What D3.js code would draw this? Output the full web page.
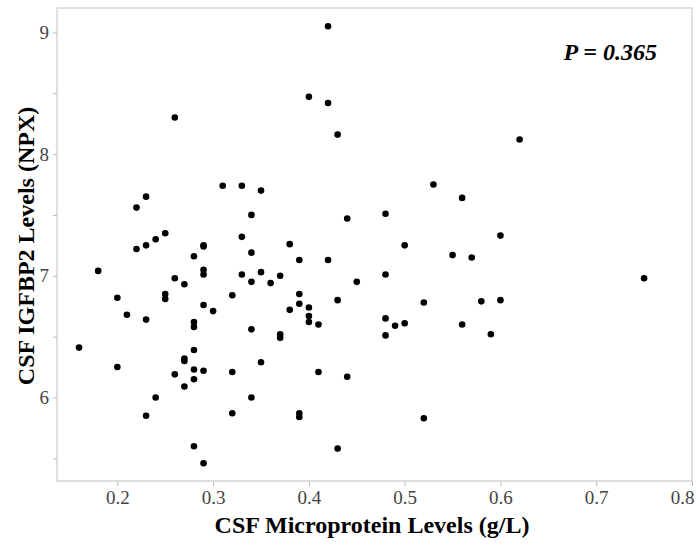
<!DOCTYPE html>
<html lang="en">
<head>
    <meta charset="UTF-8">
    <script src="https://cdnjs.cloudflare.com/ajax/libs/d3/7.8.5/d3.min.js" type="text/JavaScript"></script>
    <style>
        body { margin: 0; background: white; }
        svg { display: block; }
        .tick text {
            font-family: "Liberation Serif", "Times New Roman", serif;
            font-size: 19px;
            fill: #444;
        }
        .tick line { stroke: #bbb; }
        .title {
            font-family: "Liberation Serif", "Times New Roman", serif;
            font-weight: bold;
            font-size: 24px;
            fill: #000;
            text-anchor: middle;
        }
        .pval {
            font-family: "Liberation Serif", "Times New Roman", serif;
            font-weight: bold;
            font-style: italic;
            font-size: 24px;
            text-anchor: end;
        }
    </style>
</head>
<body>
<svg width="700" height="547"></svg>
<script>
    // CSF microprotein (g/L) against CSF IGFBP2 (NPX)
    const microprotein = [
        0.16, 0.18, 0.20, 0.20, 0.21, 0.22, 0.22, 0.23, 0.23, 0.23,
        0.23, 0.24, 0.24, 0.25, 0.25, 0.25, 0.26, 0.26, 0.26, 0.27,
        0.27, 0.27, 0.27, 0.28, 0.28, 0.28, 0.28, 0.28, 0.28, 0.28,
        0.29, 0.29, 0.29, 0.29, 0.29, 0.29, 0.29, 0.30, 0.31, 0.32,
        0.32, 0.32, 0.33, 0.33, 0.33, 0.34, 0.34, 0.34, 0.34, 0.34,
        0.35, 0.35, 0.35, 0.36, 0.37, 0.37, 0.37, 0.38, 0.38, 0.39,
        0.39, 0.39, 0.39, 0.39, 0.40, 0.40, 0.40, 0.40, 0.41, 0.41,
        0.42, 0.42, 0.42, 0.43, 0.43, 0.43, 0.44, 0.44, 0.45, 0.48,
        0.48, 0.48, 0.48, 0.49, 0.50, 0.50, 0.52, 0.52, 0.53, 0.55,
        0.56, 0.56, 0.57, 0.58, 0.59, 0.60, 0.60, 0.62, 0.75
    ];
    const igfbp2 = [
        6.41, 7.04, 6.82, 6.25, 6.68, 7.56, 7.22, 7.65, 7.25, 6.64,
        5.85, 7.30, 6.00, 7.35, 6.85, 6.81, 8.30, 6.98, 6.19, 6.93,
        6.32, 6.30, 6.09, 7.16, 6.62, 6.58, 6.39, 6.23, 6.15, 5.60,
        7.25, 7.24, 7.05, 7.01, 6.76, 6.22, 5.46, 6.71, 7.74, 6.84,
        6.21, 5.87, 7.74, 7.32, 7.01, 7.50, 7.19, 6.95, 6.56, 6.00,
        7.70, 7.03, 6.29, 6.94, 7.00, 6.52, 6.49, 7.26, 6.72, 7.13,
        6.85, 6.77, 5.87, 5.84, 8.47, 6.74, 6.67, 6.62, 6.60, 6.21,
        9.05, 8.42, 7.13, 8.16, 6.80, 5.58, 7.47, 6.17, 6.95, 7.51,
        7.01, 6.65, 6.51, 6.59, 7.25, 6.61, 6.78, 5.83, 7.75, 7.17,
        7.64, 6.60, 7.15, 6.79, 6.52, 7.33, 6.80, 8.12, 6.98
    ];
    const xTicks = [0.2, 0.3, 0.4, 0.5, 0.6, 0.7, 0.8];
    const yTicks = [5.5, 6, 6.5, 7, 7.5, 8, 8.5, 9];
    const pLabel = "P = 0.365";

    const points = microprotein.map((d, i) => ({x: d, y: igfbp2[i]}));

    const svg = d3.select("svg");
    const plotLeft = 57, plotRight = 692, plotTop = 8, plotBottom = 481;

    const x = d3.scaleLinear().domain([0.137, 0.8]).range([plotLeft, plotRight]);
    const y = d3.scaleLinear().domain([5.314, 9.2]).range([plotBottom, plotTop]);

    svg.append("rect")
        .attr("x", plotLeft)
        .attr("y", plotTop)
        .attr("width", plotRight - plotLeft)
        .attr("height", plotBottom - plotTop)
        .attr("fill", "none")
        .attr("stroke", "#d6d6d6")
        .attr("stroke-width", 1.5);

    const xAxis = svg.append("g")
        .attr("transform", `translate(0, ${plotBottom})`)
        .call(d3.axisBottom(x).tickValues(xTicks).tickSize(5).tickPadding(5)
            .tickFormat(d3.format(".1f")));
    xAxis.select(".domain").remove();
    // last label sits against the page edge, pull it inside
    xAxis.selectAll(".tick text")
        .filter(d => d === xTicks[xTicks.length - 1])
        .attr("text-anchor", "end")
        .attr("dx", 2);

    const yAxis = svg.append("g")
        .attr("transform", `translate(${plotLeft}, 0)`)
        .call(d3.axisLeft(y).tickValues(yTicks).tickSize(4).tickPadding(4)
            .tickFormat(d => Number.isInteger(d) ? d : ""));
    yAxis.select(".domain").remove();

    svg.append("g")
        .selectAll("circle")
        .data(points)
        .enter()
        .append("circle")
        .attr("cx", d => x(d.x))
        .attr("cy", d => y(d.y))
        .attr("r", 3.3)
        .attr("fill", "#000");

    svg.append("text")
        .attr("class", "title")
        .attr("x", 372)
        .attr("y", 533)
        .text("CSF Microprotein Levels (g/L)");

    svg.append("text")
        .attr("class", "title")
        .attr("transform", `translate(34, 246) rotate(-90)`)
        .text("CSF IGFBP2 Levels (NPX)");

    svg.append("text")
        .attr("class", "pval")
        .attr("x", 657)
        .attr("y", 60)
        .text(pLabel);
</script>
</body>
</html>
